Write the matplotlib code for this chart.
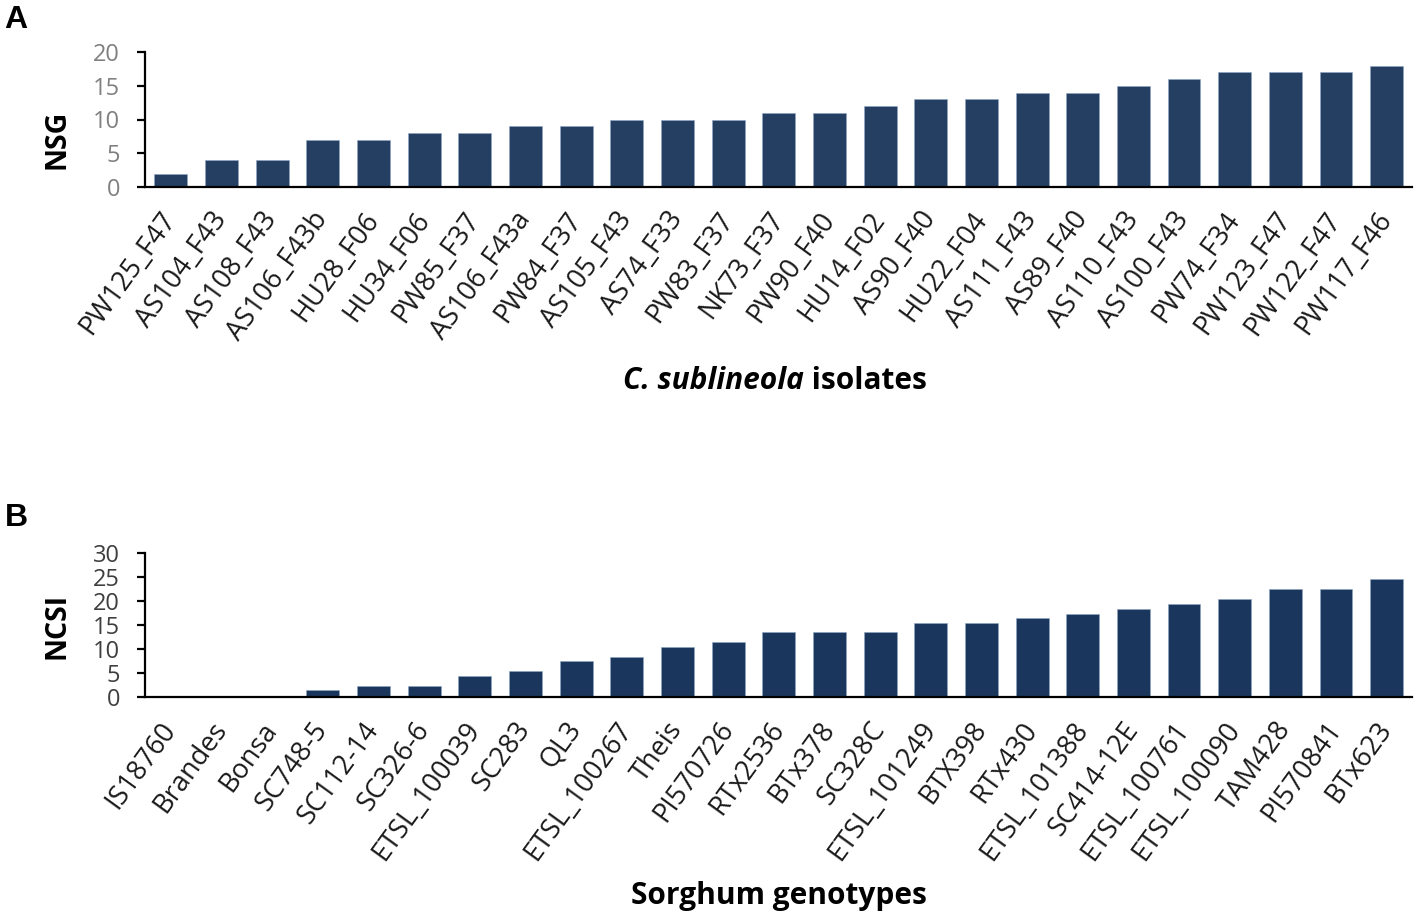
import matplotlib
matplotlib.use('Agg')
import matplotlib.pyplot as plt

plt.rcParams['font.family'] = ['Open Sans', 'DejaVu Sans']

# Panel A: isolates and number of susceptible genotypes
isolates = ['PW125_F47', 'AS104_F43', 'AS108_F43', 'AS106_F43b', 'HU28_F06',
            'HU34_F06', 'PW85_F37', 'AS106_F43a', 'PW84_F37', 'AS105_F43',
            'AS74_F33', 'PW83_F37', 'NK73_F37', 'PW90_F40', 'HU14_F02',
            'AS90_F40', 'HU22_F04', 'AS111_F43', 'AS89_F40', 'AS110_F43',
            'AS100_F43', 'PW74_F34', 'PW123_F47', 'PW122_F47', 'PW117_F46']
nsg = [2, 4, 4, 7, 7, 8, 8, 9, 9, 10, 10, 10, 11, 11, 12, 13, 13, 14, 14, 15,
       16, 17, 17, 17, 18]

# Panel B: sorghum genotypes and number of compatible isolates
genotypes = ['IS18760', 'Brandes', 'Bonsa', 'SC748-5', 'SC112-14', 'SC326-6',
             'ETSL_100039', 'SC283', 'QL3', 'ETSL_100267', 'Theis', 'PI570726',
             'RTx2536', 'BTx378', 'SC328C', 'ETSL_101249', 'BTX398', 'RTx430',
             'ETSL_101388', 'SC414-12E', 'ETSL_100761', 'ETSL_100090',
             'TAM428', 'PI570841', 'BTx623']
ncsi = [0, 0, 0, 1.4, 2.3, 2.3, 4.3, 5.5, 7.4, 8.3, 10.4, 11.5, 13.5, 13.5,
        13.5, 15.5, 15.5, 16.4, 17.2, 18.4, 19.3, 20.5, 22.5, 22.5, 24.5]

W, H = 1418, 919
fig = plt.figure(figsize=(W / 100, H / 100), dpi=100)


def draw_panel(ax, labels, values, color, ymax, tick_color, ylabel):
    x = list(range(len(labels)))
    ax.bar(x, values, width=0.65, color=color, edgecolor='#8fa6c4', linewidth=0.4,
           zorder=2)
    ax.set_xlim(-0.51, len(labels) - 0.5)
    ax.set_ylim(0, ymax)
    ax.set_yticks(range(0, ymax + 1, 5))
    ax.spines['top'].set_visible(False)
    ax.spines['right'].set_visible(False)
    ax.spines['left'].set_linewidth(1.6)
    ax.spines['bottom'].set_linewidth(1.6)
    ax.tick_params(axis='y', length=6, width=1.6, pad=12, labelsize=17,
                   labelcolor=tick_color)
    ax.tick_params(axis='x', length=0, pad=20)
    ax.set_xticks(x)
    ax.set_xticklabels(labels, rotation=54, ha='right', va='center',
                       rotation_mode='anchor', fontsize=19.5, color='#1a1a1a')
    ax.set_ylabel(ylabel, fontsize=20.5, fontweight='bold', va='center')


axA = fig.add_axes([145 / W, 1 - 187 / H, 1267 / W, 135 / H])
draw_panel(axA, isolates, nsg, '#253f62', 20, '#808080', 'NSG')
axA.yaxis.set_label_coords((57 - 145) / 1267, (187 - 139) / 135)

axB = fig.add_axes([145 / W, 1 - 697 / H, 1267 / W, 144 / H])
draw_panel(axB, genotypes, ncsi, '#1b365d', 30, '#3f3f3f', 'NCSI')
axB.yaxis.set_label_coords((57 - 145) / 1267, (697 - 626) / 144)

# panel letters
fig.text(16 / W, 1 - 20 / H, 'A', fontsize=23, fontweight='bold',
         ha='center', va='center', family=['Liberation Sans', 'DejaVu Sans'])
fig.text(16 / W, 1 - 518 / H, 'B', fontsize=23, fontweight='bold',
         ha='center', va='center', family=['Liberation Sans', 'DejaVu Sans'])

# x-axis titles
renderer = fig.canvas.get_renderer()
t1 = fig.text(0, 1 - 381 / H, 'C. sublineola', fontsize=21.5, fontweight='bold',
              style='italic', va='center', ha='left')
t2 = fig.text(0, 1 - 381 / H, ' isolates', fontsize=21.5, fontweight='bold',
              va='center', ha='left')
w1 = t1.get_window_extent(renderer).width
w2 = t2.get_window_extent(renderer).width
x0 = 775 - (w1 + w2) / 2
t1.set_x(x0 / W)
t2.set_x((x0 + w1) / W)

fig.text(779 / W, 1 - 896 / H, 'Sorghum genotypes', fontsize=21.5,
         fontweight='bold', ha='center', va='center')

fig.savefig('out.png', dpi=100)
